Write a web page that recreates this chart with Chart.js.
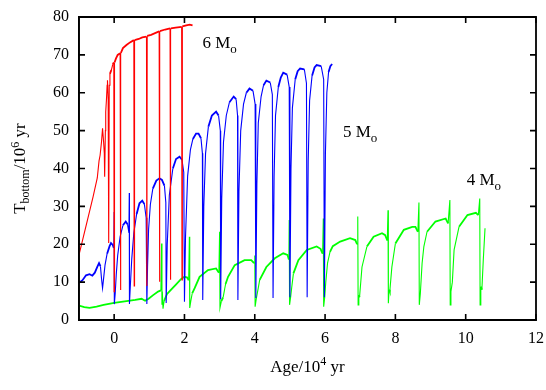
<!DOCTYPE html>
<html>
<head>
<meta charset="utf-8">
<script src="https://cdn.jsdelivr.net/npm/chart.js@4/dist/chart.umd.min.js"></script>
<style>
  html, body { margin: 0; padding: 0; background: #fff; }
  #wrap { position: relative; width: 546px; height: 390px; }
</style>
</head>
<body>
<div id="wrap"><canvas id="c"></canvas></div>
<script>
// ---- data (Age / 10^4 yr, T_bottom / 10^6 K) ----
const xRange = [-1, 12];
const yRange = [0, 80];
const xTicks = [0, 2, 4, 6, 8, 10, 12];
const yTicks = [0, 10, 20, 30, 40, 50, 60, 70, 80];

const star6 = [
  [-1, 17.2], [-0.76, 26.4], [-0.6, 32.5], [-0.48, 37.5], [-0.43, 42], [-0.4, 43.5], [-0.36, 47],
  [-0.33, 50.6], [-0.3, 47], [-0.28, 44], [-0.27, 37.8], [-0.25, 50], [-0.24, 55], [-0.22, 58],
  [-0.2, 62], [-0.19, 63.3], [-0.17, 58], [-0.16, 50], [-0.15, 20.3], [-0.14, 62], [-0.12, 65],
  [-0.08, 66], [-0.04, 67.5], [-0.01, 68], [0.0, 7.5], [0.01, 68], [0.05, 69], [0.1, 70],
  [0.17, 70.4], [0.18, 7.9], [0.19, 70.5], [0.25, 71.8], [0.35, 72.6], [0.45, 73.3], [0.56, 73.9],
  [0.57, 9], [0.58, 73.9], [0.7, 74.2], [0.8, 74.6], [0.92, 74.8], [0.93, 9], [0.94, 75],
  [1.05, 75.3], [1.18, 75.8], [1.28, 76.2], [1.29, 10.1], [1.3, 76.3], [1.45, 76.7], [1.59, 77],
  [1.6, 10.6], [1.61, 77], [1.75, 77.2], [1.92, 77.4], [1.93, 10.6], [1.94, 77.5], [2.05, 77.8],
  [2.15, 78], [2.23, 77.8]
];

const star5 = [
  [-1, 9.8], [-0.9, 10.5], [-0.8, 11.8], [-0.7, 12.1], [-0.62, 11.7], [-0.55, 12.5], [-0.48, 14],
  [-0.43, 15], [-0.39, 14.2], [-0.36, 11], [-0.33, 8.4], [-0.3, 11], [-0.26, 14.5], [-0.2, 17.5],
  [-0.13, 19.5], [-0.09, 20.3], [-0.04, 19.8], [-0.01, 19], [0.0, 28.5], [0.005, 4.2], [0.03, 7],
  [0.06, 12], [0.1, 17], [0.17, 22], [0.25, 25], [0.33, 26], [0.38, 25.3], [0.42, 23], [0.43, 33.5],
  [0.435, 4.2], [0.46, 9], [0.5, 16], [0.56, 23], [0.64, 28], [0.72, 30.8], [0.8, 31.5],
  [0.86, 30.6], [0.91, 27], [0.93, 4.2], [0.95, 14], [0.98, 24], [1.03, 30.5], [1.1, 34.7],
  [1.2, 36.8], [1.29, 37.4], [1.36, 37], [1.43, 35.5], [1.47, 31], [1.48, 4.5], [1.51, 20],
  [1.57, 33], [1.67, 40], [1.76, 42.5], [1.86, 43.1], [1.93, 42.3], [1.98, 39], [2.0, 4.8],
  [2.03, 22], [2.09, 38], [2.17, 45], [2.24, 47.8], [2.33, 49.2], [2.4, 49.2], [2.47, 48],
  [2.51, 44], [2.52, 5.3], [2.55, 30], [2.6, 44], [2.68, 51], [2.78, 54], [2.9, 55], [2.97, 54],
  [3.02, 50], [3.03, 5.5], [3.06, 32], [3.11, 47], [3.19, 54], [3.28, 57.5], [3.4, 59], [3.47, 58.3],
  [3.51, 54], [3.52, 5.3], [3.55, 34], [3.6, 50], [3.68, 57], [3.76, 60], [3.85, 61.1], [3.95, 60.5],
  [4.01, 57], [4.03, 5.8], [4.06, 36], [4.1, 52], [4.18, 59], [4.25, 62], [4.33, 63.2], [4.44, 62.7],
  [4.5, 59.5], [4.52, 5.8], [4.55, 38], [4.59, 54], [4.67, 61.5], [4.74, 64], [4.81, 65.3],
  [4.92, 64.8], [4.98, 61.5], [5.0, 6], [5.03, 40], [5.07, 56], [5.15, 63.5], [5.22, 65.7],
  [5.29, 66.4], [5.41, 66.2], [5.47, 62.5], [5.49, 6], [5.52, 42], [5.56, 58], [5.63, 64.5],
  [5.7, 66.7], [5.76, 67.3], [5.89, 67], [5.96, 63.5], [5.98, 6], [6.01, 44], [6.05, 60],
  [6.1, 65.5], [6.15, 67], [6.2, 67.6]
];

const star4 = [
  [-1, 3.8], [-0.85, 3.4], [-0.7, 3.2], [-0.5, 3.5], [-0.3, 4.0], [0.0, 4.5], [0.3, 4.9], [0.6, 5.3],
  [0.78, 5.6], [0.88, 5.1], [0.98, 5.6], [1.1, 6.5], [1.25, 7.5], [1.33, 7.8], [1.35, 20.2],
  [1.36, 4], [1.37, 7.5], [1.39, 3], [1.42, 5], [1.5, 6.8], [1.6, 7.8], [1.75, 9.3], [1.9, 10.8],
  [2.0, 11.4], [2.08, 11.2], [2.12, 10.5], [2.14, 22], [2.15, 3.2], [2.18, 5], [2.22, 7], [2.29, 8.4],
  [2.43, 11.4], [2.67, 13.2], [2.9, 13.6], [2.98, 12.5], [3.0, 23.3], [3.01, 3.2], [3.05, 5],
  [3.1, 6], [3.17, 9.5], [3.24, 11.4], [3.43, 14.5], [3.71, 15.8], [3.9, 15.8], [3.98, 15],
  [4.0, 17], [4.01, 3.5], [4.05, 6], [4.1, 8.5], [4.14, 10.6], [4.33, 14], [4.57, 16.3],
  [4.81, 17.6], [4.93, 17.2], [4.97, 16], [4.98, 26.4], [4.99, 4], [5.02, 6], [5.05, 8.5],
  [5.1, 12.3], [5.24, 15.8], [5.48, 18.5], [5.76, 19.4], [5.87, 18.8], [5.93, 17.5], [5.95, 26.8],
  [5.96, 3.5], [5.99, 6], [6.02, 10], [6.07, 15], [6.14, 18], [6.22, 19.5], [6.43, 20.7],
  [6.71, 21.6], [6.86, 21.1], [6.91, 20], [6.93, 27.3], [6.94, 4], [6.96, 6.6], [6.98, 6],
  [7.05, 14], [7.19, 19.4], [7.38, 22], [7.62, 22.9], [7.71, 22.4], [7.77, 21], [7.79, 29],
  [7.8, 4.4], [7.82, 8], [7.84, 7.5], [7.9, 14], [8.0, 20.2], [8.24, 23.8], [8.48, 24.6],
  [8.57, 24.6], [8.64, 23.3], [8.67, 31], [8.68, 4], [8.71, 7], [8.76, 15], [8.81, 19.4],
  [8.9, 23.3], [9.14, 26], [9.43, 26.8], [9.5, 25.5], [9.55, 31.7], [9.56, 4], [9.58, 7.5],
  [9.62, 10], [9.67, 18.5], [9.81, 24.6], [10.05, 27.7], [10.29, 28.3], [10.36, 27.7], [10.4, 32.1],
  [10.41, 4], [10.43, 8.8], [10.46, 8], [10.5, 15.8], [10.55, 24.2]
];

const seriesNames = ['6 M', '5 M', '4 M'];
const labelPos = [[2.51, 71.7], [6.51, 48.3], [10.03, 35.6]];

// ---- chart ----
const SERIF = '"Liberation Serif", "DejaVu Serif", serif';
const toXY = arr => arr.map(p => ({ x: p[0], y: p[1] }));

// frame box and inward ticks, built from the axis ranges/tick arrays (drawn through the scales)
const boxPts = [
  { x: xRange[0], y: yRange[0] }, { x: xRange[1], y: yRange[0] }, { x: xRange[1], y: yRange[1] },
  { x: xRange[0], y: yRange[1] }, { x: xRange[0], y: yRange[0] }
];
const tlx = (xRange[1] - xRange[0]) * 6 / 457;
const tly = (yRange[1] - yRange[0]) * 6 / 303;
const tickPts = [];
xTicks.forEach(v => {
  tickPts.push({ x: v, y: yRange[0] }, { x: v, y: yRange[0] + tly }, { x: v, y: null });
  tickPts.push({ x: v, y: yRange[1] }, { x: v, y: yRange[1] - tly }, { x: v, y: null });
});
yTicks.forEach(v => {
  tickPts.push({ x: xRange[0], y: v }, { x: xRange[0] + tlx, y: v }, { x: xRange[0], y: null });
  tickPts.push({ x: xRange[1], y: v }, { x: xRange[1] - tlx, y: v }, { x: xRange[1], y: null });
});

function drawRich(ctx, parts, x, y, align) {
  let total = 0;
  const widths = parts.map(p => { ctx.font = p[1] + 'px ' + SERIF; const w = ctx.measureText(p[0]).width; total += w; return w; });
  let cx = align === 'center' ? x - total / 2 : x;
  ctx.textBaseline = 'alphabetic';
  ctx.textAlign = 'left';
  parts.forEach((p, i) => {
    ctx.font = p[1] + 'px ' + SERIF;
    ctx.fillText(p[0], cx, y + p[2]);
    cx += widths[i];
  });
}

const textPlugin = {
  id: 'richText',
  afterDraw(chart) {
    const { ctx, chartArea: a, scales: { x, y } } = chart;
    ctx.save();
    ctx.fillStyle = '#000';
    seriesNames.forEach((n, i) => {
      drawRich(ctx, [[n, 17, 0], ['o', 13, 4.5]], x.getPixelForValue(labelPos[i][0]), y.getPixelForValue(labelPos[i][1]), 'left');
    });
    drawRich(ctx, [['Age/10', 17, 0], ['4', 12, -6.5], [' yr', 17, 0]], (a.left + a.right) / 2, a.bottom + 51.5, 'center');
    ctx.translate(25, (a.top + a.bottom) / 2);
    ctx.rotate(-Math.PI / 2);
    drawRich(ctx, [['T', 17, 0], ['bottom', 12, 4], ['/10', 17, 0], ['6', 12, -6.5], [' yr', 17, 0]], 0, 0, 'center');
    ctx.restore();
  }
};

// steep (pulse) segments thin, slowly varying (noisy) segments a little thicker
const segWidth = c => {
  const dx = Math.abs(c.p1.x - c.p0.x), dy = Math.abs(c.p1.y - c.p0.y);
  return dy > 4 * dx ? 1.1 : 1.8;
};

const ds = (data, color) => ({
  data: toXY(data), borderColor: color, backgroundColor: color,
  borderWidth: 1.4, pointRadius: 0, showLine: true, fill: false, tension: 0,
  segment: { borderWidth: segWidth }
});

const frameDs = (data, w) => ({
  data, borderColor: '#000', backgroundColor: '#000', borderWidth: w,
  pointRadius: 0, showLine: true, fill: false, tension: 0, spanGaps: false, clip: false
});

new Chart(document.getElementById('c'), {
  type: 'scatter',
  data: { datasets: [frameDs(boxPts, 1.8), frameDs(tickPts, 1.6),
                     ds(star6, '#ff0000'), ds(star5, '#0000ff'), ds(star4, '#00ff00')] },
  options: {
    responsive: true, maintainAspectRatio: false, animation: false,
    layout: { padding: { left: 0, right: 10, top: 17, bottom: 0 } },
    plugins: { legend: { display: false }, tooltip: { enabled: false } },
    scales: {
      x: {
        type: 'linear', min: xRange[0], max: xRange[1],
        afterBuildTicks: s => { s.ticks = xTicks.map(v => ({ value: v })); },
        afterFit: s => { s.height = 70; s.paddingLeft = 0; s.paddingRight = 0; },
        grid: { display: false, drawTicks: false },
        border: { display: true, color: '#000', width: 1.6 },
        ticks: { color: '#000', padding: 9, maxRotation: 0, font: { family: SERIF, size: 16 } }
      },
      y: {
        type: 'linear', min: yRange[0], max: yRange[1],
        afterBuildTicks: s => { s.ticks = yTicks.map(v => ({ value: v })); },
        afterFit: s => { s.width = 79; s.paddingTop = 0; s.paddingBottom = 0; },
        grid: { display: false, drawTicks: false },
        border: { display: true, color: '#000', width: 1.6 },
        ticks: { color: '#000', padding: 10, font: { family: SERIF, size: 16 } }
      }
    }
  },
  plugins: [textPlugin]
});
</script>
</body>
</html>
